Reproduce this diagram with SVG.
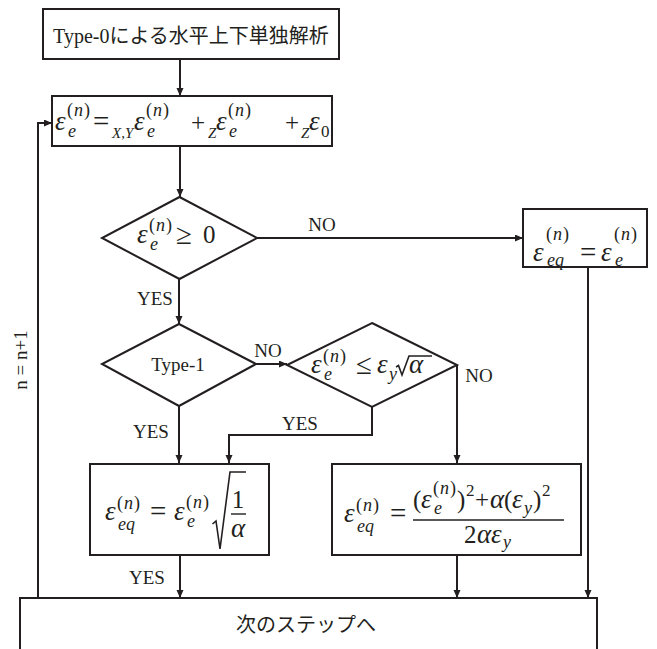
<svg xmlns="http://www.w3.org/2000/svg" width="657" height="649" viewBox="0 0 657 649">
<defs>
<style>
.box{fill:#fff;stroke:#231f20;stroke-width:2}
.ln{fill:none;stroke:#231f20;stroke-width:2}
.rad{fill:none;stroke:#231f20;stroke-width:1.6}
.lb{font-family:"Liberation Serif",serif;font-size:19px;fill:#231f20}
.jp{font-family:"Liberation Serif","Noto Sans CJK JP",serif;font-size:20px;fill:#231f20}
.jp2{font-family:"Noto Sans CJK JP",sans-serif;font-size:20px;fill:#231f20}
.mi{font-family:"Liberation Serif",serif;font-style:italic;font-size:27px;fill:#231f20}
.mr{font-family:"Liberation Serif",serif;font-size:25px;fill:#231f20}
.op{font-family:"Liberation Serif",serif;font-size:29px;fill:#231f20}
.si{font-family:"Liberation Serif",serif;font-style:italic;font-size:18px;fill:#231f20}
.ss{font-family:"Liberation Serif",serif;font-style:italic;font-size:15px;fill:#231f20}
.sr{font-family:"Liberation Serif",serif;font-size:17px;fill:#231f20}
.up{font-style:normal}
</style>
<marker id="ah" markerUnits="userSpaceOnUse" markerWidth="9" markerHeight="8" refX="8" refY="3.5" orient="auto">
<path d="M0,0 L8,3.5 L0,7 z" fill="#231f20"/>
</marker>
</defs>

<g id="connectors">
<line class="ln" x1="180" y1="59" x2="180" y2="96" marker-end="url(#ah)"/>
<line class="ln" x1="180" y1="146" x2="180" y2="197" marker-end="url(#ah)"/>
<line class="ln" x1="257" y1="238" x2="523" y2="238" marker-end="url(#ah)"/>
<line class="ln" x1="179" y1="279" x2="179" y2="324" marker-end="url(#ah)"/>
<line class="ln" x1="256" y1="364" x2="287" y2="364" marker-end="url(#ah)"/>
<line class="ln" x1="179" y1="406" x2="179" y2="463" marker-end="url(#ah)"/>
<polyline class="ln" points="372,407 372,435 229,435 229,463" marker-end="url(#ah)"/>
<line class="ln" x1="457" y1="365" x2="457" y2="463" marker-end="url(#ah)"/>
<line class="ln" x1="588" y1="267" x2="588" y2="598" marker-end="url(#ah)"/>
<line class="ln" x1="180" y1="555" x2="180" y2="598" marker-end="url(#ah)"/>
<line class="ln" x1="457" y1="555" x2="457" y2="598" marker-end="url(#ah)"/>
<polyline class="ln" points="38,598 38,123 52,123" marker-end="url(#ah)"/>
<text class="lb" x="322" y="231" text-anchor="middle">NO</text>
<text class="lb" x="155" y="305" text-anchor="middle">YES</text>
<text class="lb" x="268" y="357" text-anchor="middle">NO</text>
<text class="lb" x="479" y="382" text-anchor="middle">NO</text>
<text class="lb" x="151" y="438" text-anchor="middle">YES</text>
<text class="lb" x="300" y="430" text-anchor="middle">YES</text>
<text class="lb" x="147" y="584" text-anchor="middle">YES</text>
<text class="lb" transform="translate(27,360) rotate(-90)" text-anchor="middle">n = n+1</text>
</g>

<g id="start">
<rect class="box" x="43" y="9" width="296" height="50"/>
<text class="jp" x="191" y="43" text-anchor="middle">Type-0による水平上下単独解析</text>
</g>

<g id="compute">
<rect class="box" x="52" y="96" width="280" height="50"/>
<text class="mi" x="55" y="130">ε</text>
<text class="si" x="67" y="116" letter-spacing="1"><tspan class="up">(</tspan>n<tspan class="up">)</tspan></text>
<text class="si" x="68" y="137">e</text>
<text class="op" x="93" y="131">=</text>
<text class="ss" x="112" y="138">X,Y</text>
<text class="mi" x="134" y="130">ε</text>
<text class="si" x="146" y="116" letter-spacing="1"><tspan class="up">(</tspan>n<tspan class="up">)</tspan></text>
<text class="si" x="147" y="137">e</text>
<text class="mr" x="191" y="131">+</text>
<text class="ss" x="208" y="138">Z</text>
<text class="mi" x="216" y="130">ε</text>
<text class="si" x="228" y="116" letter-spacing="1"><tspan class="up">(</tspan>n<tspan class="up">)</tspan></text>
<text class="si" x="229" y="137">e</text>
<text class="mr" x="285" y="131">+</text>
<text class="ss" x="301" y="138">Z</text>
<text class="mi" x="309" y="130">ε</text>
<text class="sr" x="321" y="137">0</text>
</g>

<g id="check1">
<polygon class="box" points="179.5,197 257,238 179.5,279 102,238"/>
<text class="mi" x="137" y="243">ε</text>
<text class="si" x="149" y="231" letter-spacing="1"><tspan class="up">(</tspan>n<tspan class="up">)</tspan></text>
<text class="si" x="150" y="250">e</text>
<text class="op" x="176" y="244">≥</text>
<text class="mr" x="203" y="243">0</text>
</g>

<g id="elastic">
<rect class="box" x="523" y="209" width="124" height="58"/>
<text class="mi" x="533" y="261">ε</text>
<text class="si" x="546" y="240" letter-spacing="1"><tspan class="up">(</tspan>n<tspan class="up">)</tspan></text>
<text class="si" x="547" y="266">eq</text>
<text class="op" x="580" y="262">=</text>
<text class="mi" x="601" y="261">ε</text>
<text class="si" x="614" y="240" letter-spacing="1"><tspan class="up">(</tspan>n<tspan class="up">)</tspan></text>
<text class="si" x="615" y="266">e</text>
</g>

<g id="type1">
<polygon class="box" points="179,324 256,364 179,406 102,364"/>
<text class="lb" x="178" y="371" text-anchor="middle">Type-1</text>
</g>

<g id="check2">
<polygon class="box" points="372,323 457,365 372,407 287,365"/>
<text class="mi" x="311" y="373">ε</text>
<text class="si" x="323" y="362" letter-spacing="1"><tspan class="up">(</tspan>n<tspan class="up">)</tspan></text>
<text class="si" x="324" y="380">e</text>
<text class="op" x="356" y="374">≤</text>
<text class="mi" x="377" y="373">ε</text>
<text class="si" x="389" y="380">y</text>
<path class="rad" d="M396,367 L398.5,365.5 L402,375 L409,356 L432,356"/>
<text class="mi" x="409" y="373">α</text>
</g>

<g id="eq1">
<rect class="box" x="90" y="464" width="179" height="91"/>
<text class="mi" x="105" y="520">ε</text>
<text class="si" x="117" y="509" letter-spacing="1"><tspan class="up">(</tspan>n<tspan class="up">)</tspan></text>
<text class="si" x="118" y="530">eq</text>
<text class="op" x="150" y="521">=</text>
<text class="mi" x="174" y="520">ε</text>
<text class="si" x="186" y="508" letter-spacing="1"><tspan class="up">(</tspan>n<tspan class="up">)</tspan></text>
<text class="si" x="187" y="527">e</text>
<path class="rad" d="M212.5,524 L216,521 L220,549 L230,472 L246,472"/>
<text class="mr" x="238" y="508" text-anchor="middle" font-size="23">1</text>
<line x1="231" y1="514" x2="246" y2="514" stroke="#231f20" stroke-width="1.4"/>
<text class="mi" x="238" y="537" text-anchor="middle" font-size="25">α</text>
</g>

<g id="eq2">
<rect class="box" x="332" y="464" width="249" height="91"/>
<text class="mi" x="344" y="522">ε</text>
<text class="si" x="356" y="511" letter-spacing="1"><tspan class="up">(</tspan>n<tspan class="up">)</tspan></text>
<text class="si" x="357" y="532">eq</text>
<text class="op" x="390" y="523">=</text>
<line x1="413" y1="520" x2="564" y2="520" stroke="#231f20" stroke-width="1.4"/>
<text class="mr" x="413" y="508">(</text>
<text class="mi" x="421" y="508">ε</text>
<text class="si" x="433" y="494" letter-spacing="1"><tspan class="up">(</tspan>n<tspan class="up">)</tspan></text>
<text class="si" x="434" y="514">e</text>
<text class="mr" x="457" y="508">)</text>
<text class="sr" x="466" y="496">2</text>
<text class="mr" x="475" y="508">+</text>
<text class="mi" x="490" y="508">α</text>
<text class="mr" x="504" y="508">(</text>
<text class="mi" x="512" y="508">ε</text>
<text class="si" x="524" y="514">y</text>
<text class="mr" x="533" y="508">)</text>
<text class="sr" x="542" y="496">2</text>
<text class="mr" x="464" y="543">2</text>
<text class="mi" x="477" y="543">α</text>
<text class="mi" x="491" y="543">ε</text>
<text class="si" x="503" y="548">y</text>
</g>

<g id="next">
<rect class="box" x="20" y="598" width="577" height="70"/>
<text class="jp2" x="306" y="632" text-anchor="middle" font-size="21">次のステップへ</text>
</g>
</svg>
